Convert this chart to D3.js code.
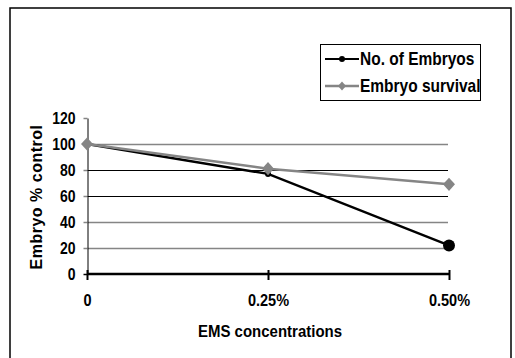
<!DOCTYPE html>
<html>
<head>
<meta charset="utf-8">
<script src="https://cdn.jsdelivr.net/npm/d3@7"></script>
<style>
  body { margin: 0; background: #fff; }
  svg text { font-family: "Liberation Sans", Arial, sans-serif; font-weight: bold; fill: #000; }
</style>
</head>
<body>
<svg id="chart" width="515" height="358"></svg>
<script>
const categories = ['0', '0.25%', '0.50%'];
const embryoCount = [100, 77, 22];
const embryoSurvival = [100, 81, 69];
const yTicks = [0, 20, 40, 60, 80, 100, 120];
const seriesNames = ['No. of Embryos', 'Embryo survival'];

const svg = d3.select('#chart');
const grey = '#858585';
const stretch = 1.15; // the scanned text is a bit taller than it is wide

// outer frame
svg.append('rect')
  .attr('x', 10).attr('y', 8)
  .attr('width', 501).attr('height', 370)
  .attr('fill', 'none').attr('stroke', '#000').attr('stroke-width', 1.5);

const x = d3.scalePoint().domain(categories).range([87, 449]);
const y = d3.scaleLinear().domain([0, 120]).range([274, 118]);

// gridlines (scan shows 60/80 darker than the rest)
const darkGrid = new Set([60, 80]);
svg.append('g').selectAll('line')
  .data(yTicks.filter(d => d > 0 && d < 120))
  .join('line')
  .attr('x1', 87).attr('x2', 448)
  .attr('y1', d => Math.round(y(d)) + 0.5).attr('y2', d => Math.round(y(d)) + 0.5)
  .attr('stroke', d => darkGrid.has(d) ? '#000' : grey)
  .attr('stroke-width', d => darkGrid.has(d) ? 1 : 1.6);

// y axis
const yAxis = svg.append('g')
  .attr('transform', 'translate(87.5,0)')
  .call(d3.axisLeft(y).tickValues(yTicks).tickSize(4).tickSizeOuter(0));
yAxis.select('.domain').attr('stroke', '#000');
yAxis.selectAll('.tick line').attr('stroke', d => d === 0 ? '#000' : grey).attr('stroke-width', 1.5);
yAxis.selectAll('.tick text')
  .attr('x', -12)
  .attr('transform', `scale(1,${stretch})`)
  .style('font-size', '14px');

// x axis
const xAxis = svg.append('g')
  .attr('transform', `translate(0,${y(0)})`)
  .call(d3.axisBottom(x).tickSizeOuter(0));
xAxis.select('.domain').attr('stroke', '#000').attr('stroke-width', 2.4)
  .attr('d', `M${x.range()[0]},0H${x.range()[1]}`);
xAxis.selectAll('.tick line').attr('y1', -4).attr('y2', 6).attr('stroke', '#000').attr('stroke-width', 2);
xAxis.selectAll('.tick text')
  .attr('y', 32 / stretch).attr('dy', 0)
  .attr('transform', `scale(1,${stretch})`)
  .style('font-size', '14.5px');

const line = d3.line().x((d, i) => x(categories[i])).y(d => y(d));

// No. of Embryos
svg.append('path')
  .datum(embryoCount)
  .attr('d', line)
  .attr('fill', 'none').attr('stroke', '#000').attr('stroke-width', 2.4);
svg.append('g').selectAll('circle')
  .data(embryoCount)
  .join('circle')
  .attr('cx', (d, i) => x(categories[i]))
  .attr('cy', d => y(d))
  .attr('r', (d, i) => i === embryoCount.length - 1 ? 6 : 3)
  .attr('fill', '#000');

// Embryo survival
svg.append('path')
  .datum(embryoSurvival)
  .attr('d', line)
  .attr('fill', 'none').attr('stroke', grey).attr('stroke-width', 2.6);
const diamond = (w, h) => `M0,${-h}L${w},0L0,${h}L${-w},0Z`;
svg.append('g').selectAll('path')
  .data(embryoSurvival)
  .join('path')
  .attr('transform', (d, i) => `translate(${x(categories[i])},${y(d)})`)
  .attr('d', diamond(6, 6.6))
  .attr('fill', grey);

// axis titles
svg.append('text')
  .attr('transform', 'translate(42,197) rotate(-90)')
  .attr('text-anchor', 'middle')
  .style('font-size', '16px')
  .style('letter-spacing', '0.5px')
  .text('Embryo % control');

svg.append('text')
  .attr('transform', `translate(270,337) scale(1,${stretch})`)
  .attr('text-anchor', 'middle')
  .style('font-size', '15px')
  .text('EMS concentrations');

// legend
const legend = svg.append('g');
legend.append('rect')
  .attr('x', 320.5).attr('y', 44.5)
  .attr('width', 160).attr('height', 56)
  .attr('fill', '#fff').attr('stroke', '#000');

const rows = legend.selectAll('g.row')
  .data(seriesNames)
  .join('g')
  .attr('class', 'row')
  .attr('transform', (d, i) => `translate(0,${59 + i * 27})`);
rows.append('line')
  .attr('x1', 325).attr('x2', 359)
  .attr('stroke', (d, i) => i === 0 ? '#000' : grey)
  .attr('stroke-width', (d, i) => i === 0 ? 2 : 2.5);
rows.each(function (d, i) {
  const g = d3.select(this);
  if (i === 0) {
    g.append('circle').attr('cx', 342).attr('r', 3).attr('fill', '#000');
  } else {
    g.append('path').attr('transform', 'translate(342,0)').attr('d', diamond(4, 4.4)).attr('fill', grey);
  }
});
rows.append('text')
  .attr('transform', `translate(360,6.3) scale(1,${stretch})`)
  .style('font-size', '15.5px')
  .text(d => d);
</script>
</body>
</html>
